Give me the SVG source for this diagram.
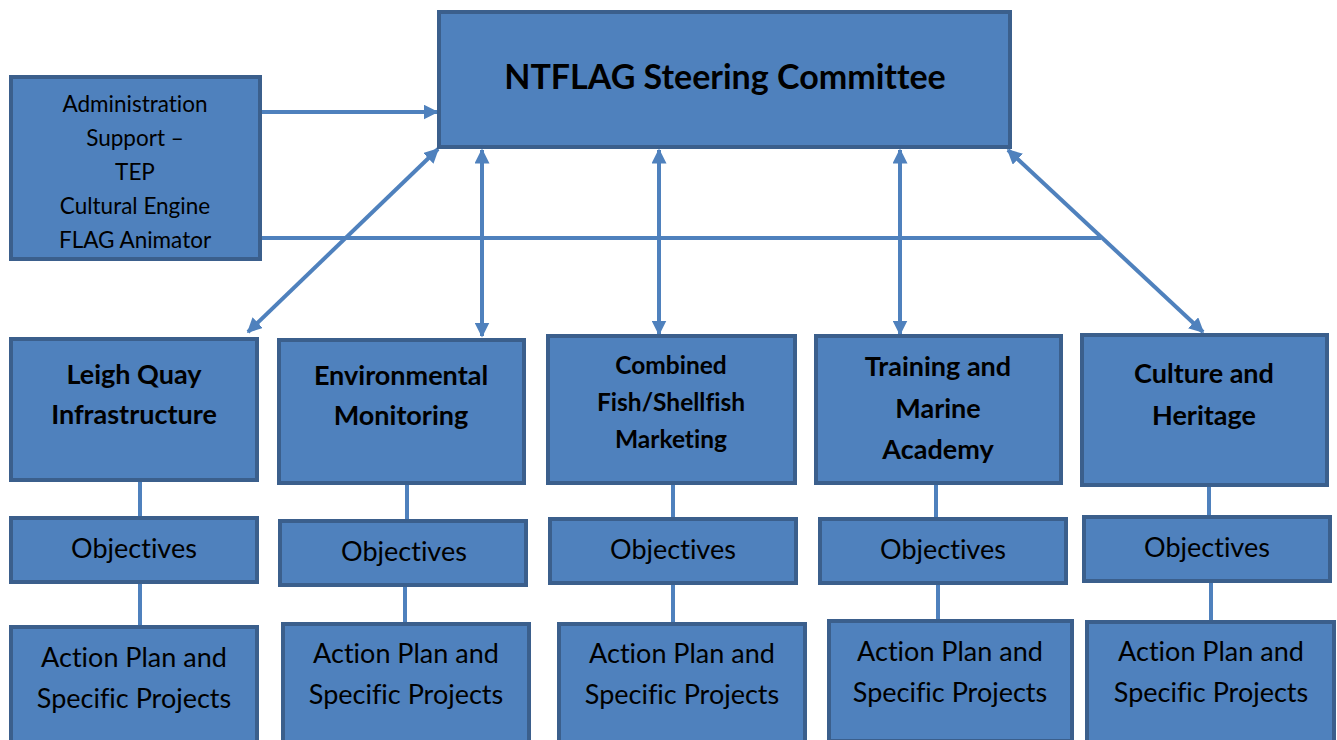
<svg xmlns="http://www.w3.org/2000/svg" width="1337" height="740" viewBox="0 0 1337 740">
  <style>
    .box { fill: #4F81BD; stroke: #3B5F8C; stroke-width: 4; }
    .link { stroke: #4F81BD; stroke-width: 4; fill: none; }
    .stem { stroke: #4F81BD; stroke-width: 4; fill: none; }
    text { font-family: Lato, "Liberation Sans", sans-serif; fill: #000; text-anchor: middle; font-variant-ligatures: none; }
    .title { font-size: 34px; font-weight: bold; }
    .head { font-size: 27px; font-weight: bold; }
    .head-sm { font-size: 24.5px; font-weight: bold; }
    .body { font-size: 27px; }
    .admin { font-size: 22.5px; }
  </style>
  <defs>
    <marker id="arr" viewBox="0 0 10 10" refX="9" refY="5" markerWidth="15" markerHeight="15" markerUnits="userSpaceOnUse" orient="auto-start-reverse">
      <path d="M0,0 L10,5 L0,10 z" fill="#4F81BD"/>
    </marker>
  </defs>

  <!-- connectors -->
  <g id="connectors">
    <line class="link" x1="261" y1="112" x2="437" y2="112" marker-end="url(#arr)"/>
    <line class="link" x1="261" y1="238" x2="1101" y2="238"/>
    <line class="link" x1="438" y1="149" x2="248" y2="332" marker-start="url(#arr)" marker-end="url(#arr)"/>
    <line class="link" x1="482" y1="150" x2="482" y2="336" marker-start="url(#arr)" marker-end="url(#arr)"/>
    <line class="link" x1="659" y1="150" x2="659" y2="334" marker-start="url(#arr)" marker-end="url(#arr)"/>
    <line class="link" x1="900" y1="150" x2="900" y2="334" marker-start="url(#arr)" marker-end="url(#arr)"/>
    <line class="link" x1="1008" y1="150" x2="1203" y2="332" marker-start="url(#arr)" marker-end="url(#arr)"/>
    <!-- stems between theme boxes, objectives and action plans -->
    <line class="stem" x1="140" y1="482" x2="140" y2="516"/>
    <line class="stem" x1="140" y1="583" x2="140" y2="625"/>
    <line class="stem" x1="407" y1="484" x2="407" y2="519"/>
    <line class="stem" x1="405" y1="586" x2="405" y2="622"/>
    <line class="stem" x1="673" y1="484" x2="673" y2="517"/>
    <line class="stem" x1="673" y1="584" x2="673" y2="622"/>
    <line class="stem" x1="936" y1="484" x2="936" y2="517"/>
    <line class="stem" x1="938" y1="584" x2="938" y2="619"/>
    <line class="stem" x1="1209" y1="486" x2="1209" y2="515"/>
    <line class="stem" x1="1211" y1="582" x2="1211" y2="620"/>
  </g>

  <g id="steering">
    <rect class="box" x="439" y="12" width="571" height="135"/>
    <text class="title" x="725" y="89">NTFLAG Steering Committee</text>
  </g>

  <g id="admin">
    <rect class="box" x="11" y="77" width="249" height="182"/>
    <text class="admin" x="135" y="112">Administration</text>
    <text class="admin" x="135" y="146">Support –</text>
    <text class="admin" x="135" y="180">TEP</text>
    <text class="admin" x="135" y="214">Cultural Engine</text>
    <text class="admin" x="135" y="248">FLAG Animator</text>
  </g>

  <!-- theme boxes -->
  <g id="leigh">
    <rect class="box" x="11" y="339" width="246" height="141"/>
    <text class="head" x="134" y="384">Leigh Quay</text>
    <text class="head" x="134" y="424">Infrastructure</text>
  </g>
  <g id="environmental">
    <rect class="box" x="279" y="340" width="245" height="143"/>
    <text class="head" x="401" y="385">Environmental</text>
    <text class="head" x="401" y="425">Monitoring</text>
  </g>
  <g id="combined">
    <rect class="box" x="548" y="336" width="247" height="147"/>
    <text class="head-sm" x="671" y="374">Combined</text>
    <text class="head-sm" x="671" y="411">Fish/Shellfish</text>
    <text class="head-sm" x="671" y="448">Marketing</text>
  </g>
  <g id="training">
    <rect class="box" x="816" y="336" width="245" height="147"/>
    <text class="head" x="938" y="376">Training and</text>
    <text class="head" x="938" y="418">Marine</text>
    <text class="head" x="938" y="459">Academy</text>
  </g>
  <g id="culture">
    <rect class="box" x="1082" y="335" width="245" height="150"/>
    <text class="head" x="1204" y="383">Culture and</text>
    <text class="head" x="1204" y="425">Heritage</text>
  </g>

  <!-- objectives -->
  <g id="obj-leigh">
    <rect class="box" x="11" y="518" width="246" height="64"/>
    <text class="body" x="134" y="558">Objectives</text>
  </g>
  <g id="obj-environmental">
    <rect class="box" x="280" y="521" width="246" height="64"/>
    <text class="body" x="404" y="561">Objectives</text>
  </g>
  <g id="obj-combined">
    <rect class="box" x="550" y="519" width="246" height="64"/>
    <text class="body" x="673" y="559">Objectives</text>
  </g>
  <g id="obj-training">
    <rect class="box" x="820" y="519" width="246" height="64"/>
    <text class="body" x="943" y="559">Objectives</text>
  </g>
  <g id="obj-culture">
    <rect class="box" x="1084" y="517" width="246" height="64"/>
    <text class="body" x="1207" y="557">Objectives</text>
  </g>

  <!-- action plans -->
  <g id="act-leigh">
    <rect class="box" x="11" y="627" width="246" height="120"/>
    <text class="body" x="134" y="667">Action Plan and</text>
    <text class="body" x="134" y="708">Specific Projects</text>
  </g>
  <g id="act-environmental">
    <rect class="box" x="283" y="624" width="246" height="120"/>
    <text class="body" x="406" y="663">Action Plan and</text>
    <text class="body" x="406" y="704">Specific Projects</text>
  </g>
  <g id="act-combined">
    <rect class="box" x="559" y="624" width="246" height="120"/>
    <text class="body" x="682" y="663">Action Plan and</text>
    <text class="body" x="682" y="704">Specific Projects</text>
  </g>
  <g id="act-training">
    <rect class="box" x="829" y="621" width="243" height="120"/>
    <text class="body" x="950" y="661">Action Plan and</text>
    <text class="body" x="950" y="702">Specific Projects</text>
  </g>
  <g id="act-culture">
    <rect class="box" x="1087" y="622" width="247" height="120"/>
    <text class="body" x="1211" y="661">Action Plan and</text>
    <text class="body" x="1211" y="702">Specific Projects</text>
  </g>
</svg>
